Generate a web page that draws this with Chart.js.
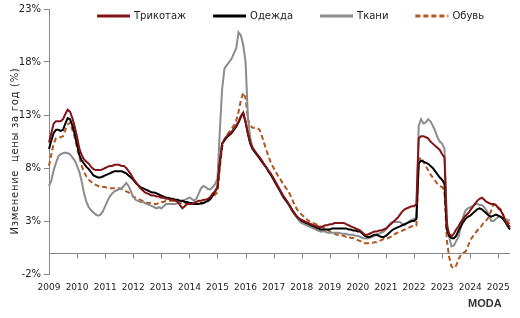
<!DOCTYPE html>
<html>
<head>
<meta charset="utf-8">
<script src="https://cdn.jsdelivr.net/npm/chart.js@4.4.1/dist/chart.umd.min.js"></script>
<style>
  html, body { margin: 0; padding: 0; background: #fff; }
  #wrap { width: 520px; height: 318px; position: relative; }
  #axisLayer { position: absolute; left: 0; top: 0; pointer-events: none; }
</style>
</head>
<body>
<div id="wrap">
  <canvas id="priceChart"></canvas>
  <canvas id="axisLayer" width="520" height="318"></canvas>
</div>
<script>
// monthly data, Jan 2009 .. Jun 2025
const firstYear = 2009;
const lastYear = 2025;
const lastMonth = 6;

const seriesNames = ['Трикотаж', 'Одежда', 'Ткани', 'Обувь'];
const yTitle = 'Изменение  цены за год (%)';
const yMin = -2;
const yMax = 23;
const yStep = 5;

// Трикотаж
const knitwear = [
  10.4, 11.3, 12.2, 12.4, 12.4, 12.4, 12.6, 13.1, 13.5, 13.3, 12.7, 11.9,
  10.9, 9.8, 9.2, 8.8, 8.6, 8.4, 8.1, 7.9, 7.8, 7.8, 7.8, 7.9,
  8.0, 8.1, 8.2, 8.2, 8.3, 8.3, 8.3, 8.2, 8.2, 8.0, 7.7, 7.4,
  7.0, 6.7, 6.4, 6.1, 5.9, 5.7, 5.6, 5.5, 5.4, 5.4, 5.3, 5.3,
  5.2, 5.2, 5.1, 5.1, 5.0, 5.0, 4.9, 4.8, 4.5, 4.2, 4.4, 4.6,
  4.6, 4.6, 4.7, 4.8, 4.9, 4.9, 5.0, 5.0, 5.1, 5.3, 5.6, 5.8,
  6.2, 8.5, 10.3, 10.7, 11.0, 11.2, 11.4, 11.7, 12.0, 12.4, 12.9, 13.2,
  12.4, 11.3, 10.4, 9.9, 9.6, 9.3, 9.0, 8.7, 8.3, 8.0, 7.7, 7.4,
  7.0, 6.6, 6.2, 5.8, 5.4, 5.1, 4.8, 4.4, 4.0, 3.7, 3.4, 3.2,
  3.1, 3.0, 2.9, 2.8, 2.7, 2.6, 2.5, 2.5, 2.4, 2.5, 2.6, 2.6,
  2.7, 2.7, 2.8, 2.8, 2.8, 2.8, 2.8, 2.7, 2.6, 2.5, 2.4, 2.3,
  2.2, 2.1, 1.9, 1.7, 1.7, 1.8, 1.9, 2.0, 2.0, 2.1, 2.1, 2.2,
  2.3, 2.5, 2.7, 2.9, 3.1, 3.3, 3.6, 3.9, 4.1, 4.2, 4.3, 4.4,
  4.4, 4.6, 10.8, 11.0, 11.0, 10.9, 10.8, 10.5, 10.3, 10.1, 9.9, 9.7,
  9.3, 9.0, 2.6, 1.8, 1.55, 1.8, 2.2, 2.5, 2.9, 3.2, 3.5, 3.7,
  4.0, 4.3, 4.6, 4.9, 5.1, 5.2, 5.0, 4.8, 4.7, 4.6, 4.6, 4.5,
  4.2, 4.0, 3.6, 3.0, 2.7, 2.4
];

// Одежда
const clothing = [
  9.8, 10.6, 11.3, 11.6, 11.6, 11.5, 11.6, 12.2, 12.7, 12.6, 12.0, 11.2,
  10.2, 9.2, 8.7, 8.4, 8.1, 7.9, 7.6, 7.3, 7.2, 7.1, 7.1, 7.2,
  7.3, 7.4, 7.5, 7.6, 7.7, 7.7, 7.7, 7.7, 7.6, 7.5, 7.3, 7.1,
  6.9, 6.6, 6.4, 6.2, 6.1, 6.0, 5.9, 5.8, 5.7, 5.7, 5.6, 5.5,
  5.4, 5.3, 5.2, 5.2, 5.1, 5.1, 5.0, 5.0, 4.9, 4.9, 4.8, 4.8,
  4.7, 4.7, 4.6, 4.6, 4.6, 4.7, 4.7, 4.8, 4.9, 5.1, 5.4, 5.8,
  6.2, 8.5, 10.3, 10.6, 10.9, 11.1, 11.3, 11.6, 11.9, 12.3, 12.8, 13.2,
  12.3, 11.2, 10.3, 9.8, 9.5, 9.2, 8.9, 8.6, 8.3, 8.0, 7.6, 7.3,
  6.9, 6.5, 6.1, 5.7, 5.3, 5.0, 4.7, 4.4, 4.0, 3.7, 3.4, 3.2,
  3.0, 2.9, 2.8, 2.7, 2.6, 2.5, 2.4, 2.3, 2.2, 2.2, 2.2, 2.2,
  2.2, 2.3, 2.3, 2.3, 2.3, 2.3, 2.3, 2.3, 2.2, 2.2, 2.1, 2.1,
  2.0, 2.0, 1.8, 1.6, 1.5, 1.5, 1.6, 1.7, 1.7, 1.6, 1.5, 1.5,
  1.6, 1.8, 2.0, 2.2, 2.3, 2.4, 2.5, 2.6, 2.7, 2.8, 2.9, 3.0,
  3.0, 3.2, 8.4, 8.7, 8.6, 8.5, 8.4, 8.2, 8.0, 7.7, 7.4, 7.1,
  6.9, 6.5, 2.2, 1.6, 1.4, 1.35, 1.6, 2.1, 2.5, 2.9, 3.2, 3.4,
  3.5, 3.7, 3.9, 4.1, 4.2, 4.1, 3.9, 3.7, 3.5, 3.4, 3.5, 3.6,
  3.5, 3.4, 3.2, 2.9, 2.5, 2.2
];

// Ткани
const fabrics = [
  6.3, 6.8, 7.8, 8.5, 9.1, 9.3, 9.4, 9.45, 9.4, 9.3, 9.0, 8.7,
  8.2, 7.6, 6.7, 5.6, 4.8, 4.3, 4.0, 3.8, 3.6, 3.5, 3.6, 3.9,
  4.4, 4.9, 5.3, 5.6, 5.8, 5.9, 6.0, 6.1, 6.3, 6.6, 6.3, 5.8,
  5.3, 5.0, 4.9, 4.8, 4.8, 4.7, 4.6, 4.5, 4.4, 4.3, 4.2, 4.3,
  4.2, 4.4, 4.6, 4.6, 4.6, 4.6, 4.6, 4.7, 4.8, 4.9, 5.0, 5.1,
  5.2, 5.1, 4.9, 5.1, 5.6, 6.1, 6.3, 6.2, 6.0, 6.0, 6.2, 6.5,
  7.0, 11.5, 15.5, 17.4, 17.7, 18.0, 18.3, 18.8, 19.3, 20.8, 20.5, 19.6,
  18.0, 12.8, 10.8, 9.9, 9.5, 9.2, 8.9, 8.6, 8.3, 8.0, 7.6, 7.3,
  7.0, 6.6, 6.2, 5.8, 5.4, 5.1, 4.7, 4.3, 3.9, 3.6, 3.3, 3.0,
  2.8, 2.7, 2.6, 2.5, 2.4, 2.3, 2.2, 2.1, 2.0, 2.0, 2.0, 1.9,
  1.9, 1.9, 1.9, 1.9, 1.9, 1.8, 1.8, 1.8, 1.7, 1.7, 1.7, 1.6,
  1.6, 1.5, 1.4, 1.35, 1.35, 1.4, 1.5, 1.6, 1.7, 1.8, 1.9, 2.0,
  2.2, 2.5, 2.8, 2.9, 2.9, 2.9, 2.9, 2.7, 2.6, 2.8, 3.0, 3.1,
  3.2, 3.3, 12.0, 12.6, 12.2, 12.3, 12.6, 12.4, 12.0, 11.5, 10.9, 10.5,
  10.3, 9.8, 3.0, 1.5, 0.6, 0.7, 1.1, 1.5, 2.4, 3.4, 4.0, 4.2,
  4.3, 4.4, 4.6, 4.6, 4.5, 4.5, 4.3, 4.0, 3.5, 3.0, 3.0, 3.2,
  3.4, 3.4, 3.3, 3.2, 3.1, 3.05
];

// Обувь
const footwear = [
  8.2, 9.3, 10.3, 10.8, 10.9, 10.9, 11.0, 11.6, 12.1, 12.3, 11.6, 10.9,
  9.9, 9.0, 8.2, 7.6, 7.2, 6.9, 6.7, 6.5, 6.4, 6.3, 6.2, 6.2,
  6.2, 6.1, 6.1, 6.1, 6.1, 6.1, 6.1, 6.0, 5.9, 5.8, 5.7, 5.5,
  5.3, 5.2, 5.1, 5.0, 4.9, 4.8, 4.7, 4.7, 4.6, 4.6, 4.6, 4.7,
  4.8, 4.8, 4.9, 4.9, 4.9, 4.9, 4.8, 4.8, 4.7, 4.7, 4.7, 4.6,
  4.6, 4.6, 4.6, 4.6, 4.6, 4.6, 4.7, 4.8, 4.9, 5.1, 5.3, 5.5,
  5.7, 8.0, 10.0, 10.7, 11.1, 11.4, 11.7, 12.0, 12.5, 13.3, 14.4, 15.1,
  14.6, 12.6, 12.0, 11.8, 11.8, 11.8, 11.6, 11.0, 10.3, 9.6, 9.0, 8.4,
  8.0, 7.6, 7.2, 6.9, 6.5, 6.2, 5.9, 5.5, 5.0, 4.5, 4.1, 3.8,
  3.6, 3.4, 3.2, 3.0, 2.9, 2.8, 2.7, 2.6, 2.5, 2.4, 2.3, 2.2,
  2.0, 1.9, 1.8, 1.7, 1.7, 1.6, 1.6, 1.5, 1.5, 1.4, 1.4, 1.3,
  1.2, 1.1, 1.0, 0.9, 0.9, 0.9, 0.9, 1.0, 1.0, 1.1, 1.2, 1.3,
  1.3, 1.4, 1.5, 1.6, 1.8, 1.9, 2.0, 2.1, 2.2, 2.3, 2.4, 2.5,
  2.5, 2.6, 8.8, 9.0, 8.6, 8.2, 7.8, 7.4, 7.1, 6.8, 6.5, 6.3,
  6.2, 5.8, 1.2, -0.4, -1.3, -1.45, -1.2, -0.6, -0.2, 0.0, 0.1, 0.6,
  1.2, 1.5, 1.8, 2.1, 2.3, 2.6, 2.9, 3.1, 3.4, 4.0, 4.6, 4.5,
  4.3, 4.1, 3.6, 3.2, 2.9, 2.7
];

const seriesColors = ['#821417', '#000000', '#8c8c8c', '#b4561e'];

// month labels like 2009-01
const labels = [];
for (let y = firstYear; y <= lastYear; y++) {
  for (let m = 1; m <= 12; m++) {
    if (y === lastYear && m > lastMonth) break;
    labels.push(y + '-' + String(m).padStart(2, '0'));
  }
}

const fontFamily = '"DejaVu Sans", Verdana, sans-serif';

// legend, axis title and logo drawn on top of the chart
const extrasPlugin = {
  id: 'extras',
  afterDraw(chart) {
    const c = chart.ctx;
    c.save();
    c.font = '10px ' + fontFamily;
    c.textBaseline = 'middle';
    let x = 97;
    chart.data.datasets.forEach(ds => {
      c.strokeStyle = ds.borderColor;
      c.lineWidth = 3;
      c.setLineDash(ds.borderDash || []);
      c.beginPath();
      c.moveTo(x, 16);
      c.lineTo(x + 33, 16);
      c.stroke();
      c.setLineDash([]);
      c.fillStyle = '#222';
      c.fillText(ds.label, x + 37, 16);
      x += 37 + c.measureText(ds.label).width + 27;
    });

    c.save();
    c.translate(15, 151);
    c.rotate(-Math.PI / 2);
    c.textAlign = 'center';
    c.letterSpacing = '0.7px';
    c.fillText(yTitle, 0, 0);
    c.restore();

    c.font = 'bold 11px "Liberation Sans", Arial, sans-serif';
    c.fillStyle = '#333';
    c.textAlign = 'left';
    c.fillText('MODA', 468, 304);
    c.restore();
  }
};

const allSeries = [knitwear, clothing, fabrics, footwear];

const chart = new Chart(document.getElementById('priceChart'), {
  type: 'line',
  data: {
    labels: labels,
    datasets: allSeries.map((vals, i) => ({
      label: seriesNames[i],
      data: vals,
      borderColor: seriesColors[i],
      borderWidth: 2,
      borderDash: i === 3 ? [5, 3] : [],
      pointRadius: 0,
      fill: false,
      tension: 0
    }))
  },
  options: {
    responsive: true,
    maintainAspectRatio: false,
    animation: false,
    layout: { padding: { top: 7, right: 10, left: 0, bottom: 0 } },
    plugins: {
      legend: { display: false },
      tooltip: { enabled: false }
    },
    scales: {
      x: {
        type: 'category',
        position: 'bottom',
        grid: { display: false },
        border: { display: false },
        afterFit: scale => { scale.height = 44; },
        ticks: {
          autoSkip: false,
          maxRotation: 0,
          minRotation: 0,
          padding: 0,
          color: '#222',
          font: { family: fontFamily, size: 9 },
          callback: function (value) {
            const lab = this.getLabelForValue(value);
            return lab.endsWith('-01') ? lab.slice(0, 4) : '';
          }
        }
      },
      y: {
        min: yMin,
        max: yMax,
        afterFit: scale => { scale.width = 49; },
        border: { display: true, color: '#888', width: 1 },
        grid: { drawOnChartArea: false, tickLength: 5, color: '#888' },
        ticks: {
          stepSize: yStep,
          padding: 3,
          color: '#222',
          font: { family: fontFamily, size: 10 },
          callback: v => v + '%'
        }
      }
    }
  },
  plugins: [extrasPlugin]
});

// zero line with yearly tick marks, on its own layer over the chart
function drawZeroAxis() {
  const layer = document.getElementById('axisLayer');
  const c = layer.getContext('2d');
  const area = chart.chartArea;
  const yScale = chart.scales.y;
  const xScale = chart.scales.x;
  c.clearRect(0, 0, layer.width, layer.height);
  if (!area || !yScale || !xScale) return;

  let yz = yScale.getPixelForValue(0);
  if (!isFinite(yz) || yz < area.top || yz > area.bottom) {
    yz = area.bottom - (0 - yMin) / (yMax - yMin) * (area.bottom - area.top);
  }
  const y0 = Math.round(yz) + 0.5;
  c.strokeStyle = '#888';
  c.lineWidth = 1;
  c.beginPath();
  c.moveTo(area.left, y0);
  c.lineTo(area.right, y0);
  for (let i = 0; i < labels.length; i++) {
    if (!labels[i].endsWith('-01')) continue;
    const x = Math.round(xScale.getPixelForValue(i)) + 0.5;
    c.moveTo(x, y0);
    c.lineTo(x, y0 + 5);
  }
  c.stroke();
}

drawZeroAxis();
window.addEventListener('load', drawZeroAxis);
setTimeout(drawZeroAxis, 50);
</script>
</body>
</html>
